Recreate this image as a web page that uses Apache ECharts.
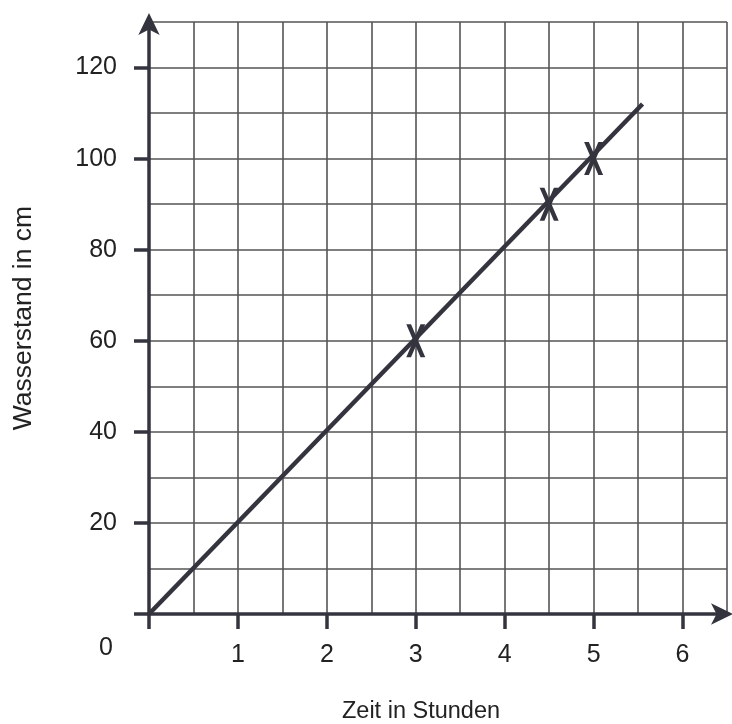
<!DOCTYPE html>
<html>
<head>
<meta charset="utf-8">
<script src="https://cdn.jsdelivr.net/npm/echarts@6/dist/echarts.min.js"></script>
<style>
  html, body { margin: 0; padding: 0; background: #ffffff; }
  #chart { width: 732px; height: 724px; }
</style>
</head>
<body>
<div id="chart"></div>
<script>
// Wasserstand über Zeit
const linePoints = [[0, 0], [5.55, 112]];
const measured = [[3, 60], [4.5, 90], [5, 100]];
const xTicks = [0, 1, 2, 3, 4, 5, 6];
const xLabels = [1, 2, 3, 4, 5, 6];
const yTicks = [0, 20, 40, 60, 80, 100, 120];
const yLabels = [20, 40, 60, 80, 100, 120];

const ink = '#34343f';
const font = 'Liberation Sans, Arial, sans-serif';
// X-förmiges Kreuz als Symbol
const crossPath = 'path://M0,0 L5,0 L20,34 L15,34 Z M15,0 L20,0 L5,34 L0,34 Z';

const chart = echarts.init(document.getElementById('chart'), null, { renderer: 'canvas' });

const gridLine = { show: true, lineStyle: { color: '#555', width: 1.6 } };

const option = {
  backgroundColor: '#ffffff',
  animation: false,
  grid: { left: 149, right: 5, top: 22, bottom: 110, outerBoundsMode: 'none', containLabel: false },
  xAxis: [
    {
      // nur Kästchenraster
      type: 'value', min: 0, max: 6.5, interval: 0.5, position: 'top',
      axisLine: { show: false }, axisTick: { show: false }, axisLabel: { show: false },
      splitLine: gridLine
    },
    {
      type: 'value', min: 0, max: 6.5, interval: 0.5, position: 'bottom',
      name: 'Zeit in Stunden',
      nameLocation: 'middle',
      nameGap: 86,
      nameTextStyle: { fontFamily: font, fontSize: 23.5, color: '#222', padding: [0, 34, 0, 0] },
      axisLine: {
        show: true,
        onZero: false,
        lineStyle: { color: ink, width: 3.5 },
        symbol: ['none', 'arrow'],
        symbolSize: [16, 22],
        symbolOffset: [0, 6]
      },
      axisTick: { show: true, customValues: xTicks, length: 15, lineStyle: { color: ink, width: 3.5 } },
      axisLabel: { customValues: xLabels, margin: 29, fontFamily: font, fontSize: 25, color: '#222' },
      splitLine: { show: false }
    }
  ],
  yAxis: [
    {
      type: 'value', min: 0, max: 130, interval: 10, position: 'right',
      axisLine: { show: false }, axisTick: { show: false }, axisLabel: { show: false },
      splitLine: gridLine
    },
    {
      type: 'value', min: 0, max: 130, interval: 10, position: 'left',
      name: 'Wasserstand in cm',
      nameLocation: 'middle',
      nameGap: 112,
      nameTextStyle: { fontFamily: font, fontSize: 26.5, color: '#222' },
      axisLine: {
        show: true,
        onZero: false,
        lineStyle: { color: ink, width: 3.5 },
        symbol: ['none', 'arrow'],
        symbolSize: [16, 22],
        symbolOffset: [0, 9]
      },
      axisTick: { show: true, customValues: yTicks, length: 15, lineStyle: { color: ink, width: 3.5 } },
      axisLabel: { customValues: yLabels, margin: 32, fontFamily: font, fontSize: 25, color: '#222' },
      splitLine: { show: false }
    }
  ],
  graphic: [{
    type: 'text',
    left: 99,
    top: 636,
    style: { text: '0', font: '25px ' + font, fill: '#222' }
  }],
  series: [
    {
      type: 'line',
      xAxisIndex: 1,
      yAxisIndex: 1,
      data: linePoints,
      showSymbol: false,
      lineStyle: { color: ink, width: 4.5 },
      z: 3
    },
    {
      type: 'scatter',
      xAxisIndex: 1,
      yAxisIndex: 1,
      data: measured,
      symbol: crossPath,
      symbolSize: [19, 33],
      itemStyle: { color: ink, opacity: 1 },
      z: 4
    }
  ]
};

chart.setOption(option);
</script>
</body>
</html>
